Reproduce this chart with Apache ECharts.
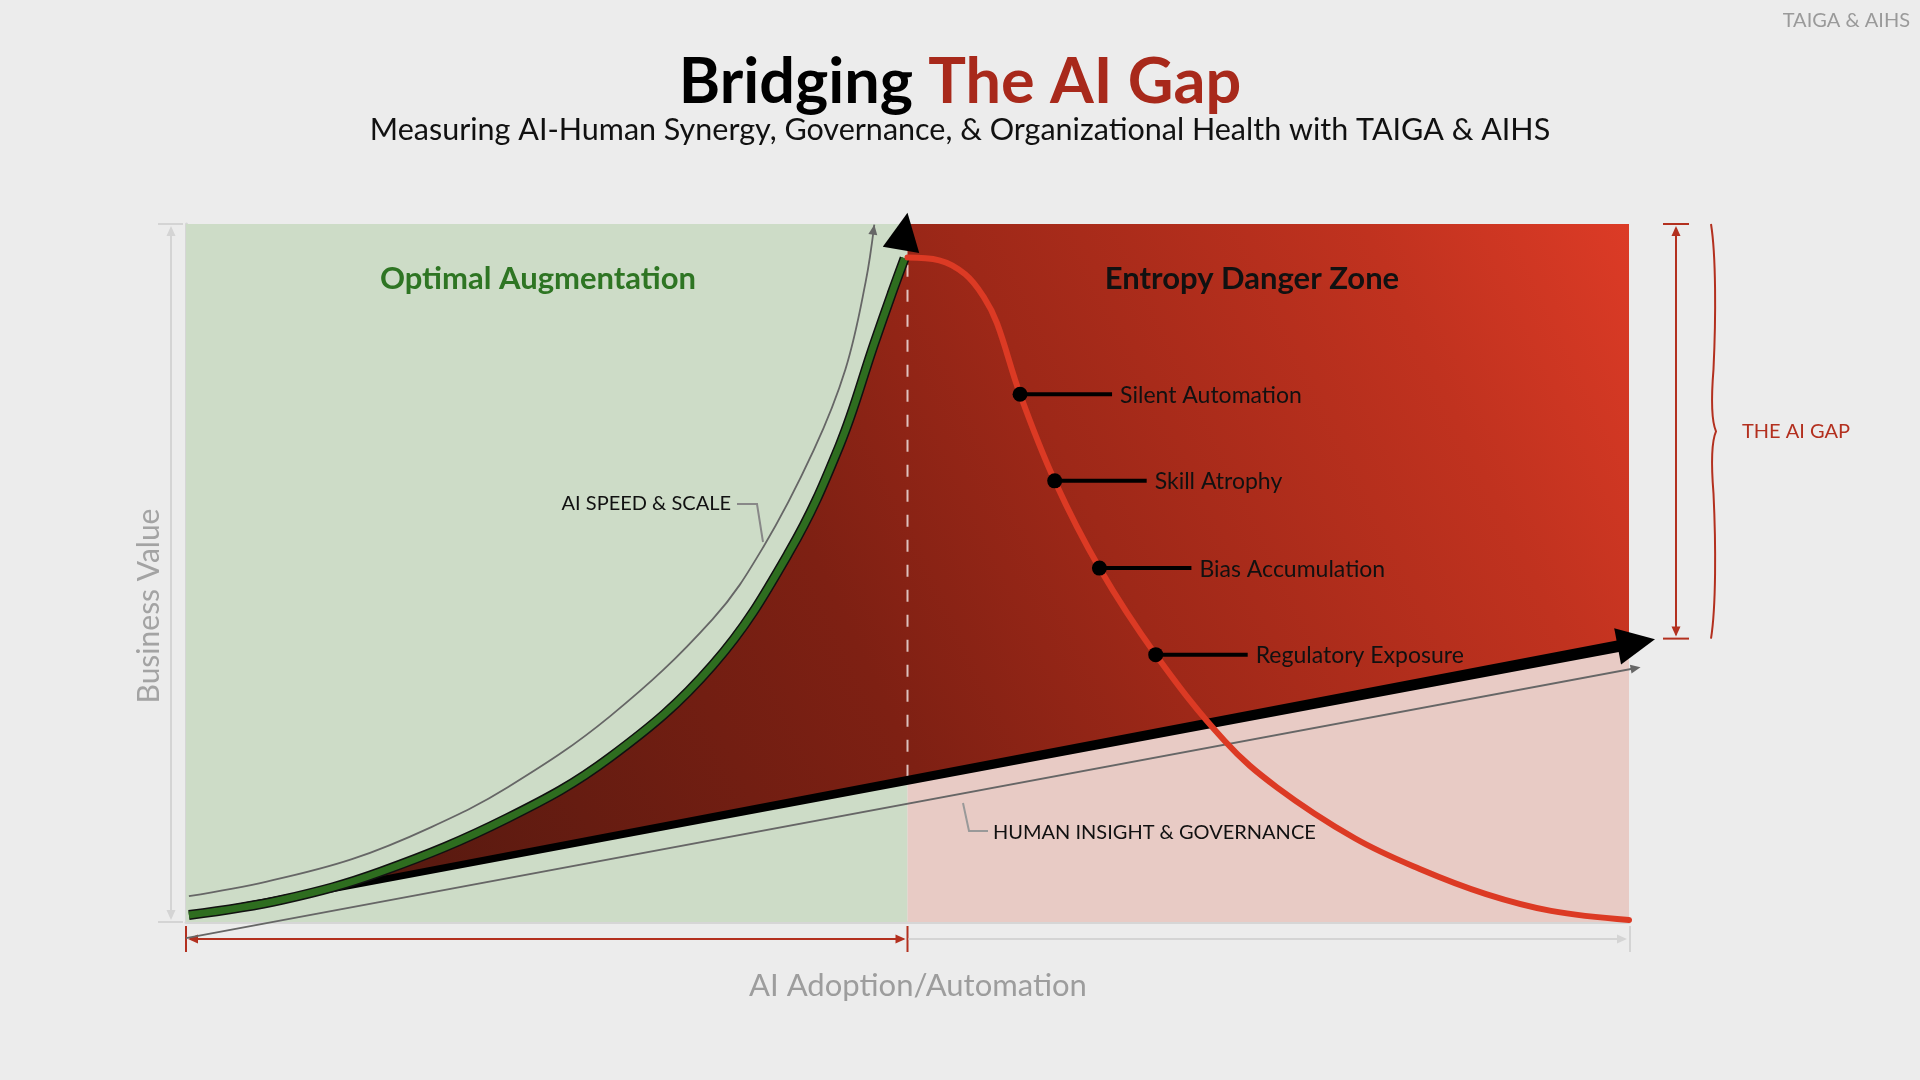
<!DOCTYPE html>
<html><head><meta charset="utf-8">
<script src="https://cdn.jsdelivr.net/npm/echarts@6/dist/echarts.min.js"></script>
<style>html,body{margin:0;padding:0;background:#ececec;}#c{width:1920px;height:1080px;}</style>
</head><body><div id="c"></div>
<script>
// ---------------- DATA ----------------
const zoneSplit = 50;                       // boundary between the two zones (x)
const aiSpeed = [[0.2,1.0],[6.7,3.2],[13.5,7.2],[22.3,14.9],[29.4,23.6],[36.5,36.8],[41.8,53.0],[45.3,68.3],[47.7,82.9],[48.9,90.0],[49.8,95.1]];
const aiSpeedGuide = [[0.2,3.7],[5.6,5.8],[11.5,9.0],[17.0,13.6],[22.3,19.3],[29.4,29.5],[36.5,43.4],[40.0,53.7],[43.5,67.6],[45.7,79.2],[47.1,91.7],[47.7,99.9]];
const aiSpeedArrow = [[49.55,96.3],[50.0,101.6]];   // arrow base centre, arrow tip
const entropy = [[50.0,95.2],[52.2,94.8],[54.0,92.8],[55.3,89.5],[56.2,85.8],[57.8,75.6],[60.2,63.2],[63.3,50.7],[67.2,38.3],[72.0,25.9],[75.6,19.3],[81.0,12.0],[85.5,7.6],[90.1,4.0],[94.6,1.6],[100,0.3]];
const human = [[0.3,0.9],[101.8,40.5]];
const humanGuide = [[0.0,-2.3],[100.8,36.5]];
const riskNames = ['Silent Automation','Skill Atrophy','Bias Accumulation','Regulatory Exposure'];
const riskPoints = [[57.8,75.6],[60.2,63.2],[63.3,50.7],[67.2,38.3]];
const dashedDivider = [[50,20.8],[50,94.6]];
const gapRange = [40.6,100];

// ---------------- helpers ----------------
const FONT = 'Lato, "Noto Sans", "DejaVu Sans", sans-serif';
const RED = '#b3301f';
const DIM = '#d4d4d4';
const SMOOTH = 0.38;

function smoothD(pts, smooth) {
  let d = '', prevX, prevY, cpx0, cpy0, cpx1, cpy1, nx0, ny0;
  const n = pts.length;
  for (let i = 0; i < n; i++) {
    const x = pts[i][0], y = pts[i][1];
    if (i === 0) { d += 'M' + x + ' ' + y; cpx0 = x; cpy0 = y; }
    else {
      const ddx = x - prevX, ddy = y - prevY;
      if (ddx*ddx + ddy*ddy < 0.5) continue;
      if (i + 1 >= n) { cpx1 = x; cpy1 = y; }
      else {
        const nextX = pts[i+1][0], nextY = pts[i+1][1];
        let vx = nextX - prevX, vy = nextY - prevY;
        const lenPrev = Math.hypot(x - prevX, y - prevY), lenNext = Math.hypot(nextX - x, nextY - y);
        const ratio = lenNext / (lenNext + lenPrev);
        nx0 = x + vx*smooth*ratio; ny0 = y + vy*smooth*ratio;
        nx0 = Math.min(nx0, Math.max(nextX, x)); ny0 = Math.min(ny0, Math.max(nextY, y));
        nx0 = Math.max(nx0, Math.min(nextX, x)); ny0 = Math.max(ny0, Math.min(nextY, y));
        vx = nx0 - x; vy = ny0 - y;
        cpx1 = x - vx*lenPrev/lenNext; cpy1 = y - vy*lenPrev/lenNext;
        cpx1 = Math.min(cpx1, Math.max(prevX, x)); cpy1 = Math.min(cpy1, Math.max(prevY, y));
        cpx1 = Math.max(cpx1, Math.min(prevX, x)); cpy1 = Math.max(cpy1, Math.min(prevY, y));
        vx = x - cpx1; vy = y - cpy1;
        nx0 = x + vx*lenNext/lenPrev; ny0 = y + vy*lenNext/lenPrev;
      }
      d += ' C' + cpx0 + ' ' + cpy0 + ' ' + cpx1 + ' ' + cpy1 + ' ' + x + ' ' + y;
      cpx0 = nx0; cpy0 = ny0;
    }
    prevX = x; prevY = y;
  }
  return d;
}
function tri(tip, from, len, hw) {
  const dx = tip[0]-from[0], dy = tip[1]-from[1], l = Math.hypot(dx, dy);
  const ux = dx/l, uy = dy/l, nx = -uy, ny = ux;
  const bx = tip[0]-ux*len, by = tip[1]-uy*len;
  return [[tip[0], tip[1]], [bx+nx*hw, by+ny*hw], [bx-nx*hw, by-ny*hw]];
}
function lerpY(line, x) {
  const a = line[0], b = line[1];
  return a[1] + (b[1]-a[1])*(x-a[0])/(b[0]-a[0]);
}

const chart = echarts.init(document.getElementById('c'));

const option = {
  backgroundColor: '#ececec',
  animation: false,
  grid: { left: 186, right: 291, top: 224, bottom: 158, outerBoundsMode: 'none' },
  xAxis: { type: 'value', min: 0, max: 100,
    axisLine: { show: true, onZero: false, lineStyle: { color: '#d6d6d6', width: 3 } },
    axisTick: { show: false }, axisLabel: { show: false }, splitLine: { show: false } },
  yAxis: { type: 'value', min: 0, max: 100,
    axisLine: { show: true, onZero: false, lineStyle: { color: '#d6d6d6', width: 3 } },
    axisTick: { show: false }, axisLabel: { show: false }, splitLine: { show: false } },
  graphic: [
    { type: 'text', right: 10, top: 11, style: { text: 'TAIGA & AIHS', font: '20px ' + FONT, fill: '#9a9a9a' } },
    { type: 'text', x: 960, y: 83, style: { text: '{a|Bridging }{b|The AI Gap}', align: 'center', verticalAlign: 'middle',
        rich: { a: { fontFamily: FONT, fontSize: 63, fontWeight: 700, fill: '#000', color: '#000' },
                b: { fontFamily: FONT, fontSize: 63, fontWeight: 700, fill: '#a8291b', color: '#a8291b' } } } },
    { type: 'text', x: 960, y: 130, style: { text: 'Measuring AI-Human Synergy, Governance, & Organizational Health with TAIGA & AIHS',
        font: '30.5px ' + FONT, fill: '#111', align: 'center', verticalAlign: 'middle' } },
    { type: 'text', x: 149, y: 606, rotation: Math.PI / 2, style: { text: 'Business Value', font: '30px ' + FONT, fill: '#a3a3a3', align: 'center', verticalAlign: 'middle' } },
    { type: 'text', x: 918, y: 986, style: { text: 'AI Adoption/Automation', font: '31px ' + FONT, fill: '#9d9d9d', align: 'center', verticalAlign: 'middle' } },
    { type: 'text', x: 538, y: 279, z: 100, style: { text: 'Optimal Augmentation', font: '700 31px ' + FONT, fill: '#2e7523', align: 'center', verticalAlign: 'middle' } },
    { type: 'text', x: 1252, y: 279, z: 100, style: { text: 'Entropy Danger Zone', font: '700 31px ' + FONT, fill: '#111', align: 'center', verticalAlign: 'middle' } },
    { type: 'text', x: 731, y: 504, z: 100, style: { text: 'AI SPEED & SCALE', font: '20px ' + FONT, fill: '#111', align: 'right', verticalAlign: 'middle' } },
    { type: 'polyline', z: 100, shape: { points: [[737,504],[757,504],[763,542]] }, style: { stroke: '#888', lineWidth: 2, fill: null } },
    { type: 'text', x: 993, y: 833, z: 100, style: { text: 'HUMAN INSIGHT & GOVERNANCE', font: '20px ' + FONT, fill: '#111', align: 'left', verticalAlign: 'middle' } },
    { type: 'polyline', z: 100, shape: { points: [[963,803],[969,831],[988,831]] }, style: { stroke: '#999', lineWidth: 2, fill: null } }
  ],
  series: [
    // zone backgrounds
    { type: 'line', data: [], z: 1, silent: true,
      markArea: { silent: true, data: [
        [{ xAxis: 0, yAxis: 0, itemStyle: { color: '#cddcc7' } }, { xAxis: zoneSplit, yAxis: 100 }],
        [{ xAxis: zoneSplit, yAxis: 0, itemStyle: { color: '#e8cbc5' } }, { xAxis: 100, yAxis: 100 }]
      ] } },
    // red gap region (between AI curve / top and human line)
    { type: 'custom', z: 2, silent: true, data: [[0, 0]],
      renderItem: function (params, api) {
        const g = aiSpeed.map(p => api.coord(p));
        const last = aiSpeed[aiSpeed.length - 1];
        let d = smoothD(g, SMOOTH);
        const pts = [[zoneSplit, last[1]], [zoneSplit, 100], [100, 100], [100, lerpY(human, 100)], human[0]].map(p => api.coord(p));
        pts.forEach(p => { d += ' L' + p[0] + ' ' + p[1]; });
        d += ' Z';
        return { type: 'path', shape: { pathData: d },
          style: { fill: new echarts.graphic.LinearGradient(0, 1, 1, 0, [
            { offset: 0, color: '#46110a' }, { offset: 0.15, color: '#5a1a10' }, { offset: 0.45, color: '#7e2013' },
            { offset: 0.62, color: '#9e2818' }, { offset: 0.85, color: '#c0321f' }, { offset: 1, color: '#dc3b26' }]) } };
      } },
    // dashed divider
    { type: 'line', data: dashedDivider, z: 3, symbol: 'none', silent: true,
      lineStyle: { color: 'rgba(255,255,255,0.72)', width: 2, type: [12, 13] } },
    // guide lines
    { type: 'line', name: 'AI speed guide', data: aiSpeedGuide, z: 3, smooth: SMOOTH, symbol: 'none', silent: true,
      lineStyle: { color: '#666', width: 1.8 } },
    { type: 'line', name: 'Human guide', data: humanGuide, z: 3, symbol: 'none', clip: false, silent: true,
      lineStyle: { color: '#666', width: 1.8 } },
    // human insight & governance (tapered black arrow)
    { type: 'custom', z: 4, silent: true, data: [[0, 0]],
      renderItem: function (params, api) {
        const p0 = api.coord(human[0]), p1 = api.coord(human[1]);
        const dx = p1[0]-p0[0], dy = p1[1]-p0[1], l = Math.hypot(dx, dy);
        const ux = dx/l, uy = dy/l, nx = -uy, ny = ux;
        const L = 38, bx = p1[0]-ux*(L-3), by = p1[1]-uy*(L-3);
        const body = [[p0[0]+nx*3, p0[1]+ny*3], [bx+nx*5.8, by+ny*5.8], [bx-nx*5.8, by-ny*5.8], [p0[0]-nx*3, p0[1]-ny*3]];
        return { type: 'group', children: [
          { type: 'polygon', shape: { points: body }, style: { fill: '#000' } },
          { type: 'polygon', shape: { points: tri(p1, p0, L, 18.5) }, style: { fill: '#000' } }
        ] };
      } },
    // AI speed & scale curve
    { type: 'line', name: 'AI speed outline', data: aiSpeed, z: 5, smooth: SMOOTH, symbol: 'none', silent: true,
      lineStyle: { color: '#111', width: 10 } },
    { type: 'line', name: 'AI speed & scale', data: aiSpeed, z: 5, smooth: SMOOTH, symbol: 'none', silent: true,
      lineStyle: { color: '#2e6d1f', width: 7 } },
    // entropy curve
    { type: 'line', name: 'Entropy', data: entropy, z: 6, smooth: SMOOTH, symbol: 'none', silent: true,
      lineStyle: { color: '#dc3a24', width: 6, cap: 'round' } },
    // risk markers
    { type: 'custom', z: 7, silent: true, data: riskPoints.map((p, i) => [p[0], p[1], i]),
      renderItem: function (params, api) {
        const c = api.coord([api.value(0), api.value(1)]);
        const i = api.value(2);
        return { type: 'group', children: [
          { type: 'line', shape: { x1: c[0], y1: c[1], x2: c[0] + 92, y2: c[1] }, style: { stroke: '#000', lineWidth: 4 } },
          { type: 'circle', shape: { cx: c[0], cy: c[1], r: 7.5 }, style: { fill: '#000' } },
          { type: 'text', x: c[0] + 100, y: c[1] + 1, style: { text: riskNames[i], font: '23px ' + FONT, fill: '#111', align: 'left', verticalAlign: 'middle' } }
        ] };
      } },
    // arrow heads for curves
    { type: 'custom', z: 8, silent: true, data: [[0, 0]],
      renderItem: function (params, api) {
        const gt = api.coord(aiSpeedArrow[1]), gb = api.coord(aiSpeedArrow[0]);
        const n1 = aiSpeedGuide.length;
        const a1 = tri(api.coord(aiSpeedGuide[n1-1]), api.coord(aiSpeedGuide[n1-2]), 10, 4.5);
        const a2 = tri(api.coord(humanGuide[1]), api.coord(humanGuide[0]), 10, 4.5);
        return { type: 'group', children: [
          { type: 'polygon', shape: { points: tri(gt, gb, Math.hypot(gt[0]-gb[0], gt[1]-gb[1]), 18.5) }, style: { fill: '#000' } },
          { type: 'polygon', shape: { points: a1 }, style: { fill: '#666' } },
          { type: 'polygon', shape: { points: a2 }, style: { fill: '#666' } }
        ] };
      } },
    // dimension lines (x and y)
    { type: 'custom', z: 3, silent: true, data: [[0, 0]],
      renderItem: function (params, api) {
        const o = api.coord([0, 0]), m = api.coord([zoneSplit, 0]), e = api.coord([100, 0]), t = api.coord([0, 100]);
        const y = o[1] + 17, x = o[0] - 15;
        const ch = [];
        ch.push({ type: 'line', shape: { x1: o[0] + 4, y1: y, x2: m[0] - 4, y2: y }, style: { stroke: RED, lineWidth: 2 } });
        ch.push({ type: 'polygon', shape: { points: tri([o[0] + 2, y], [o[0] + 20, y], 10, 4.5) }, style: { fill: RED } });
        ch.push({ type: 'polygon', shape: { points: tri([m[0] - 2, y], [m[0] - 20, y], 10, 4.5) }, style: { fill: RED } });
        ch.push({ type: 'line', shape: { x1: o[0], y1: y - 13, x2: o[0], y2: y + 13 }, style: { stroke: RED, lineWidth: 2 } });
        ch.push({ type: 'line', shape: { x1: m[0], y1: y - 13, x2: m[0], y2: y + 13 }, style: { stroke: RED, lineWidth: 2 } });
        ch.push({ type: 'line', shape: { x1: m[0] + 1, y1: y, x2: e[0] - 4, y2: y }, style: { stroke: DIM, lineWidth: 2 } });
        ch.push({ type: 'polygon', shape: { points: tri([e[0] - 2, y], [e[0] - 20, y], 10, 4.5) }, style: { fill: DIM } });
        ch.push({ type: 'line', shape: { x1: e[0] + 1, y1: y - 13, x2: e[0] + 1, y2: y + 13 }, style: { stroke: DIM, lineWidth: 2 } });
        ch.push({ type: 'line', shape: { x1: x, y1: t[1] + 4, x2: x, y2: o[1] - 4 }, style: { stroke: DIM, lineWidth: 2 } });
        ch.push({ type: 'polygon', shape: { points: tri([x, t[1] + 2], [x, t[1] + 20], 10, 4.5) }, style: { fill: DIM } });
        ch.push({ type: 'polygon', shape: { points: tri([x, o[1] - 2], [x, o[1] - 20], 10, 4.5) }, style: { fill: DIM } });
        ch.push({ type: 'line', shape: { x1: x - 13, y1: t[1], x2: x + 12, y2: t[1] }, style: { stroke: DIM, lineWidth: 2 } });
        ch.push({ type: 'line', shape: { x1: x - 13, y1: o[1], x2: x + 12, y2: o[1] }, style: { stroke: DIM, lineWidth: 2 } });
        return { type: 'group', children: ch };
      } },
    // THE AI GAP annotation
    { type: 'custom', z: 3, silent: true, data: [gapRange],
      renderItem: function (params, api) {
        const top = api.coord([100, api.value(1)]), bot = api.coord([100, api.value(0)]);
        const gx = top[0] + 47, T = top[1], B = bot[1], M = (T + B) / 2, H = M - T, bx = top[0] + 82, w = 5;
        const brace = 'M' + bx + ' ' + T +
          ' C' + (bx + w) + ' ' + (T + 0.15*H) + ' ' + (bx + w) + ' ' + (T + 0.45*H) + ' ' + (bx + 0.5*w) + ' ' + (T + 0.7*H) +
          ' C' + bx + ' ' + (T + 0.85*H) + ' ' + (bx + 0.1*w) + ' ' + (M - 0.05*H) + ' ' + (bx + w) + ' ' + M +
          ' C' + (bx + 0.1*w) + ' ' + (M + 0.05*H) + ' ' + bx + ' ' + (M + 0.15*H) + ' ' + (bx + 0.5*w) + ' ' + (M + 0.3*H) +
          ' C' + (bx + w) + ' ' + (M + 0.55*H) + ' ' + (bx + w) + ' ' + (M + 0.85*H) + ' ' + bx + ' ' + B;
        return { type: 'group', children: [
          { type: 'line', shape: { x1: gx, y1: T + 4, x2: gx, y2: B - 4 }, style: { stroke: RED, lineWidth: 2 } },
          { type: 'polygon', shape: { points: tri([gx, T + 2], [gx, T + 20], 10, 4.5) }, style: { fill: RED } },
          { type: 'polygon', shape: { points: tri([gx, B - 2], [gx, B - 20], 10, 4.5) }, style: { fill: RED } },
          { type: 'line', shape: { x1: gx - 13, y1: T, x2: gx + 13, y2: T }, style: { stroke: RED, lineWidth: 2 } },
          { type: 'line', shape: { x1: gx - 13, y1: B, x2: gx + 13, y2: B }, style: { stroke: RED, lineWidth: 2 } },
          { type: 'path', shape: { pathData: brace }, style: { stroke: RED, lineWidth: 2, fill: null } },
          { type: 'text', x: top[0] + 113, y: M, style: { text: 'THE AI GAP', font: '20px ' + FONT, fill: RED, align: 'left', verticalAlign: 'middle' } }
        ] };
      } }
  ]
};
chart.setOption(option);
</script>
</body></html>
